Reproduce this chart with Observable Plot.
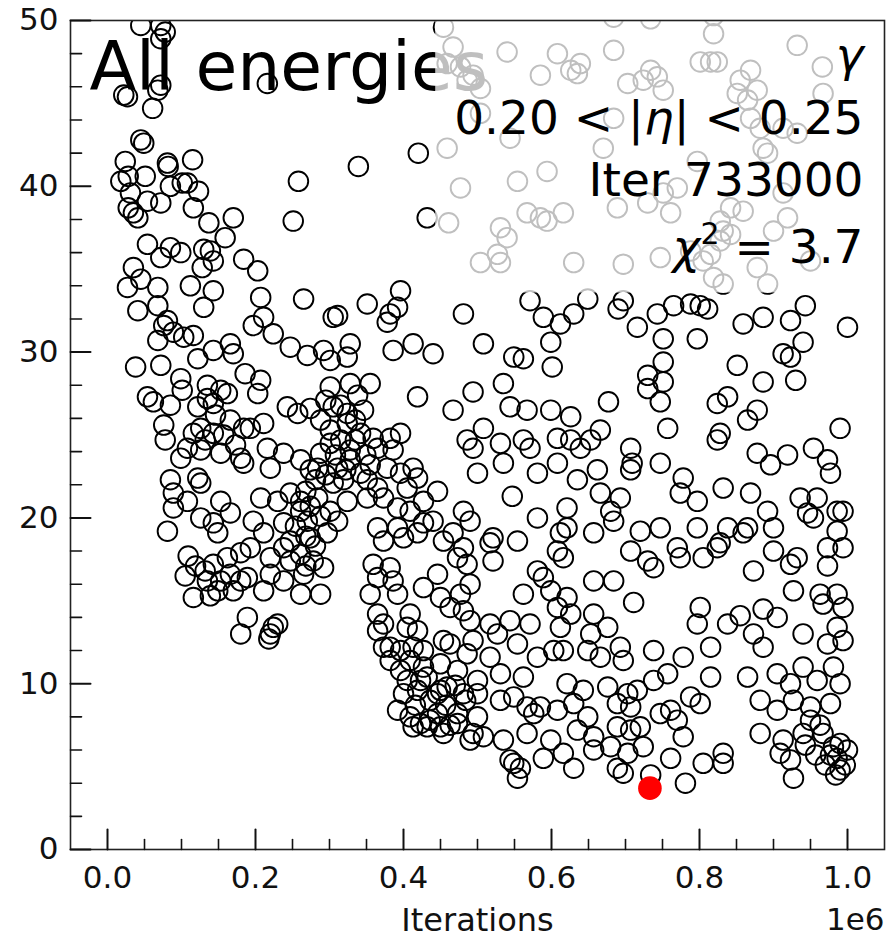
<!DOCTYPE html>
<html><head><meta charset="utf-8">
<script src="https://cdn.jsdelivr.net/npm/d3@7"></script>
<script src="https://cdn.jsdelivr.net/npm/@observablehq/plot@0.6"></script>
<style>html,body{margin:0;padding:0;background:#fff;}#chart{width:886px;height:939px;}</style>
</head><body><div id="chart"></div>
<script>
// [iterations in thousands, chi2]
const samplesTopLeft = [[45,49.7],[72,49.7],[78,49.3],[72,48.9],[22,45.5],[27,45.4],[68,45.8],[72,46.1],[61,44.7],[216,46.2],[45,42.8],[49,42.6],[24,41.5],[81,41.4],[115,41.6],[82,41.2],[18,40.3],[28,40.6],[51,40.6],[85,40.0],[101,40.2],[108,40.2],[123,39.7],[31,39.6],[54,39.1],[72,39.0],[28,38.7],[41,38.1],[35,38.4],[116,38.7],[137,37.8],[170,38.1],[258,40.3],[251,37.9],[339,41.2],[420,42.0],[432,38.1],[54,36.5],[72,35.7],[85,36.3],[99,36.0],[130,36.2],[139,36.1],[128,35.1],[143,35.5],[159,36.9],[184,35.6],[203,34.9],[35,35.1],[45,34.4],[27,33.9],[68,33.9],[112,34.0],[143,33.7]];
const samplesEarly = [[41,32.5],[68,32.8],[130,32.7],[81,31.9],[89,31.2],[68,30.7],[103,30.9],[116,31.0],[76,31.6],[38,29.1],[72,29.2],[122,29.6],[143,30.1],[166,30.5],[170,29.9],[186,28.7],[99,28.4],[101,27.7],[54,27.3],[62,27.0],[85,26.8],[135,27.2],[162,27.5],[143,26.9],[122,26.7],[76,25.6],[78,24.7],[126,25.4],[116,25.1],[143,25.1],[157,25.0],[184,25.4],[99,23.6],[153,23.9],[180,23.6],[184,23.3],[126,24.1],[108,24.2],[85,22.3],[122,22.4],[126,22.1],[89,21.5],[89,20.6],[108,21.0],[126,20.0],[153,21.0],[166,20.3],[143,19.7],[149,19.1],[81,19.2],[109,17.7],[105,16.5],[143,17.2],[162,17.6],[180,17.9],[166,16.6],[189,16.4],[135,16.2],[149,15.6],[170,15.6],[116,15.2],[135,28.0],[153,27.7],[146,26.2],[166,25.9],[132,24.7],[173,24.4],[119,17.1],[132,16.8],[153,16.2],[180,16.2],[139,15.3],[197,31.6]];
const samplesMiddle = [[207,33.3],[265,33.2],[305,32.1],[311,32.2],[351,32.9],[396,33.7],[392,32.7],[378,31.8],[382,32.3],[481,32.3],[571,33.1],[589,32.1],[612,31.7],[630,32.3],[211,32.1],[224,31.1],[247,30.3],[270,29.8],[292,30.1],[301,29.5],[328,30.5],[324,29.7],[386,30.1],[413,30.5],[440,29.9],[508,30.5],[549,29.7],[562,29.6],[599,30.6],[601,29.1],[207,28.3],[203,27.5],[301,27.9],[328,28.1],[355,28.1],[338,27.4],[419,27.3],[494,27.6],[535,28.1],[467,26.5],[243,26.7],[274,26.6],[257,26.3],[211,25.7],[193,25.4],[305,26.7],[324,26.3],[346,26.5],[324,25.7],[342,25.1],[359,24.8],[365,24.2],[382,24.8],[396,25.1],[386,24.1],[508,25.4],[544,26.7],[567,26.5],[599,26.5],[626,26.1],[486,24.7],[494,24.2],[531,24.5],[562,24.7],[571,24.2],[608,24.8],[626,24.7],[216,24.2],[238,23.9],[220,23.0],[261,23.5],[288,23.9],[301,24.5],[284,23.0],[311,23.0],[328,23.5],[342,22.7],[319,22.3],[305,22.1],[351,22.3],[365,21.8],[378,23.0],[396,22.7],[413,23.0],[419,22.4],[405,21.8],[500,22.7],[535,23.3],[581,22.7],[608,23.3],[635,22.3],[207,21.2],[230,21.0],[247,21.5],[261,20.4],[284,21.2],[301,20.4],[324,21.0],[351,21.2],[373,21.2],[392,20.6],[409,20.4],[427,21.0],[446,21.6],[440,19.8],[427,19.7],[481,20.4],[490,19.8],[547,21.3],[581,20.0],[621,20.6],[621,19.4],[612,19.1],[197,19.8],[211,19.1],[238,19.7],[247,18.6],[270,19.8],[274,18.8],[297,19.1],[311,19.8],[365,19.4],[373,18.6],[392,19.4],[400,18.8],[419,19.1],[454,18.6],[467,19.1],[481,18.2],[517,18.5],[521,18.8],[554,18.6],[521,17.4],[486,17.2],[473,17.6],[193,18.2],[220,17.6],[238,18.2],[261,17.8],[278,17.4],[292,17.0],[220,16.6],[238,16.2],[265,16.6],[261,15.4],[288,15.4],[211,15.6],[359,17.2],[365,16.4],[355,15.4],[382,17.0],[386,16.2],[392,15.4],[427,15.8],[446,16.6],[450,15.2],[477,15.4],[490,16.0],[608,18.0],[616,17.6],[581,16.8],[589,16.4],[599,15.6],[562,15.4],[621,15.2],[288,25.9],[301,25.3],[315,24.7],[328,24.1],[308,23.8],[322,22.9],[335,24.7],[295,22.6],[281,22.3],[268,21.6],[295,27.1],[315,26.8],[335,25.9],[349,23.8],[355,23.2],[274,22.9],[254,19.5],[268,18.9],[281,18.3],[261,21.0],[274,20.7],[288,20.1],[247,17.4],[268,17.1]];
const samplesLateUpper = [[649,33.2],[697,33.1],[690,32.6],[716,31.5],[743,32.3],[765,32.8],[788,32.9],[801,32.8],[811,32.6],[859,31.7],[886,32.1],[923,31.9],[943,32.8],[940,30.6],[1000,31.5],[751,30.8],[797,30.8],[751,29.4],[730,28.6],[751,28.2],[730,27.8],[747,27.0],[851,29.2],[886,28.2],[930,28.3],[913,29.9],[923,29.7],[677,27.0],[666,25.3],[653,24.7],[639,24.2],[757,25.4],[824,26.9],[838,27.3],[865,25.9],[878,26.5],[824,24.7],[828,25.1],[990,25.4],[707,24.2],[709,23.3],[707,22.9],[747,23.3],[878,23.9],[896,23.2],[919,23.8],[954,24.2],[973,23.5],[977,22.7],[662,22.9],[666,21.5],[693,21.2],[680,20.4],[684,19.8],[657,19.1],[778,22.4],[774,21.5],[797,21.0],[832,21.8],[869,21.5],[892,20.4],[900,19.4],[936,21.2],[959,21.2],[946,20.3],[954,20.0],[986,20.4],[994,20.4],[720,19.2],[747,19.4],[797,19.4],[838,19.4],[865,19.4],[859,19.1],[986,19.2],[707,18.0],[730,17.4],[738,17.0],[770,18.2],[774,17.6],[805,17.6],[828,18.5],[824,18.2],[900,18.0],[923,17.2],[932,17.6],[973,18.2],[994,18.2],[973,17.1],[873,16.8],[657,16.2],[684,16.2],[927,15.6],[963,15.4],[986,15.4]];
const samplesLateLower = [[608,14.6],[626,14.2],[657,14.2],[711,14.9],[801,14.6],[797,13.6],[838,13.6],[855,14.1],[886,14.5],[905,14.0],[967,14.8],[994,14.6],[612,13.4],[653,13.0],[676,13.4],[603,12.0],[616,12.0],[649,12.0],[666,11.6],[693,12.2],[697,11.4],[738,12.0],[778,11.6],[815,12.2],[873,13.0],[886,12.2],[940,13.0],[973,12.4],[994,12.6],[986,13.4],[621,10.0],[643,9.6],[676,9.8],[703,9.4],[716,9.6],[738,10.2],[757,10.6],[815,10.4],[865,10.4],[905,10.6],[923,10.0],[940,11.0],[959,10.2],[981,11.0],[990,10.0],[608,8.4],[630,8.8],[649,8.0],[689,8.8],[707,8.6],[747,8.2],[761,8.4],[770,7.8],[788,9.2],[801,8.8],[882,9.0],[905,8.4],[927,9.0],[950,8.6],[977,8.8],[599,6.6],[635,7.2],[657,6.8],[689,7.4],[707,7.2],[720,7.4],[778,6.8],[882,7.0],[913,6.6],[940,7.0],[967,7.0],[990,6.4],[1000,6.0],[616,5.8],[630,4.9],[657,6.0],[680,6.2],[689,4.9],[697,4.6],[724,6.2],[703,5.8],[761,5.5],[805,5.2],[832,5.8],[832,5.2],[909,5.8],[923,5.4],[927,4.3],[986,5.5],[990,4.8],[981,6.2],[734,4.5],[781,4.0],[943,6.3],[957,5.7],[970,5.1],[984,4.5],[997,5.1],[977,5.7],[950,7.8],[963,7.5]];
const samplesMidLower = [[189,14.0],[180,13.0],[218,12.7],[224,13.4],[230,13.6],[220,13.0],[365,14.2],[373,13.6],[365,13.2],[373,12.2],[382,11.4],[409,14.2],[405,13.4],[419,13.2],[463,14.6],[481,14.4],[490,13.8],[517,13.6],[527,13.0],[571,13.6],[544,13.8],[554,12.4],[581,11.6],[382,12.2],[396,12.0],[413,12.2],[427,12.0],[454,12.6],[463,12.4],[486,11.8],[494,12.6],[517,11.6],[531,10.6],[562,10.4],[396,10.8],[405,10.2],[427,11.0],[432,10.4],[450,11.2],[473,10.8],[500,10.2],[400,9.4],[419,9.6],[446,9.4],[459,9.8],[481,9.4],[500,9.4],[531,9.0],[549,9.2],[567,8.6],[585,8.6],[576,8.2],[392,8.4],[409,8.0],[423,7.6],[446,8.2],[450,7.4],[432,7.4],[473,8.2],[473,7.6],[500,8.0],[494,7.0],[508,6.8],[490,6.6],[535,6.6],[567,7.0],[589,5.5],[558,4.9],[544,5.4],[554,4.3],[549,5.2],[454,7.0],[413,7.4],[409,11.4],[423,10.2],[436,9.0],[457,8.7],[470,9.9],[484,9.0],[436,7.8],[463,7.5],[416,8.7],[450,9.6]];
const samplesTopRight = [[454,49.6],[467,48.4],[486,46.4],[494,46.7],[504,45.9],[459,47.4],[477,47.2],[540,48.1],[585,46.7],[608,48.0],[626,47.0],[639,47.4],[635,46.8],[684,48.2],[703,46.2],[724,46.4],[734,47.0],[743,46.6],[751,45.8],[819,49.2],[801,47.5],[815,47.5],[824,47.5],[855,46.4],[869,47.0],[851,45.6],[865,45.2],[878,45.8],[932,48.5],[967,45.6],[504,44.4],[544,42.9],[670,42.3],[684,44.1],[869,44.1],[882,43.5],[886,42.3],[892,42.0],[932,43.2],[913,43.5],[459,42.3],[477,39.9],[554,40.3],[594,40.9],[689,38.7],[730,39.0],[751,39.6],[761,38.4],[770,39.9],[797,41.5],[913,39.6],[842,38.7],[859,38.5],[828,37.9],[461,37.8],[531,37.5],[540,36.9],[567,38.4],[585,38.1],[594,37.9],[616,38.4],[527,35.9],[504,35.4],[531,35.4],[630,35.4],[697,35.3],[747,35.7],[788,36.1],[805,35.5],[815,35.9],[828,36.7],[832,37.3],[842,37.1],[819,34.5],[832,34.1],[878,35.1],[900,37.3],[919,38.1],[950,35.5],[892,34.1],[966,47.2],[684,50.2],[734,50.1],[819,50.3]];

const bestIteration = 733000;
const bestChi2 = 3.7;

const xMajorTicks = [0, 200000, 400000, 600000, 800000, 1000000];
const xMinorTicks = [50000,100000,150000,250000,300000,350000,450000,500000,550000,650000,700000,750000,850000,900000,950000];
const yMajorTicks = [0, 10, 20, 30, 40, 50];
const yMinorTicks = [2,4,6,8,12,14,16,18,22,24,26,28,32,34,36,38,42,44,46,48];

const titleText = "All energies";
const annotationLines = ["γ", "0.20 < |η| < 0.25", "Iter 733000", "χ² = 3.7"];
const annotationBaselines = [50, 113, 175, 242]; // px below frame top
const xLabel = "Iterations";
const xOffsetText = "1e6";

const samples = [...samplesTopLeft, ...samplesEarly, ...samplesMiddle, ...samplesMidLower,
  ...samplesLateUpper, ...samplesLateLower, ...samplesTopRight]
  .map(([k, c]) => ({iteration: k * 1000, chi2: c}));

const tickShape = {draw(ctx, l) { ctx.moveTo(0, 0); ctx.lineTo(0, -l); }};
const FONT = "DejaVu Sans, sans-serif";

const plot = Plot.plot({
  width: 886, height: 939,
  marginLeft: 70, marginRight: 2, marginTop: 20, marginBottom: 90,
  style: {fontFamily: FONT, fontSize: "31px", color: "#111", background: "#fff", overflow: "visible"},
  x: {domain: [-50000, 1050000], label: null},
  y: {domain: [0, 50], label: null},
  marks: [
    Plot.dot(samples, {x: "iteration", y: "chi2", r: 9.8, stroke: "#000", strokeWidth: 1.9, fill: "none", clip: true}),
    Plot.text([titleText], {frameAnchor: "top-left", dx: 19, dy: 21, lineAnchor: "top", textAnchor: "start", fontSize: 68, fill: "#000"}),
    ...annotationLines.map((t, i) => Plot.text([t], {frameAnchor: "top-right", dx: -21, dy: annotationBaselines[i], lineAnchor: "bottom", textAnchor: "end", fontSize: 47, fill: "#000"})),
    Plot.dot([{iteration: bestIteration, chi2: bestChi2}], {x: "iteration", y: "chi2", r: 11.8, fill: "#ff0000", stroke: "none"}),
    Plot.frame({stroke: "#222", strokeWidth: 1.6}),
    Plot.vector(xMajorTicks, {x: d => d, frameAnchor: "bottom", length: 20, shape: tickShape, anchor: "start", stroke: "#111", strokeWidth: 2}),
    Plot.vector(xMinorTicks, {x: d => d, frameAnchor: "bottom", length: 10, shape: tickShape, anchor: "start", stroke: "#111", strokeWidth: 1.6}),
    Plot.vector(yMajorTicks, {y: d => d, frameAnchor: "left", rotate: 90, length: 20, shape: tickShape, anchor: "start", stroke: "#111", strokeWidth: 2}),
    Plot.vector(yMinorTicks, {y: d => d, frameAnchor: "left", rotate: 90, length: 11, shape: tickShape, anchor: "start", stroke: "#111", strokeWidth: 1.6}),
    Plot.axisX({ticks: xMajorTicks, tickSize: 0, tickPadding: 16, tickFormat: d => (d / 1e6).toFixed(1), fontSize: 31, label: null, fill: "#111"}),
    Plot.axisY({ticks: yMajorTicks, tickSize: 0, tickPadding: 12, fontSize: 31, label: null, fill: "#111"}),
    Plot.text([xLabel], {frameAnchor: "bottom", dy: 81, lineAnchor: "bottom", fontSize: 32, fill: "#111"}),
    Plot.text([xOffsetText], {frameAnchor: "bottom-right", dy: 80, lineAnchor: "bottom", textAnchor: "end", fontSize: 31, fill: "#111"})
  ]
});

document.getElementById("chart").append(plot);

// Annotation: semi-transparent white box behind right-hand text, italic Greek letters
const annoSet = new Set(annotationLines);
const annoNodes = Array.from(plot.querySelectorAll("text")).filter(n => annoSet.has(n.textContent));
annoNodes.forEach(n => {
  let html = n.textContent.replace(/([γηχ])/g, '<tspan font-style="italic">$1</tspan>');
  if (html.includes("²")) html = html.replace("²", '<tspan font-size="30" dy="-19">2</tspan><tspan dy="19">') + "</tspan>";
  n.innerHTML = html;
});
if (annoNodes.length) {
  const sr = plot.getBoundingClientRect();
  let x0 = Infinity, y1 = -Infinity;
  annoNodes.forEach(n => { const r = n.getBoundingClientRect(); x0 = Math.min(x0, r.left - sr.left); y1 = Math.max(y1, r.bottom - sr.top); });
  const left = x0 - 19, top = 20, right = 884, bottom = y1 + 19;
  const rect = document.createElementNS("http://www.w3.org/2000/svg", "rect");
  rect.setAttribute("x", left); rect.setAttribute("y", top);
  rect.setAttribute("width", right - left); rect.setAttribute("height", bottom - top);
  rect.setAttribute("fill", "#fff"); rect.setAttribute("fill-opacity", "0.75");
  let g = annoNodes[0];
  while (g.parentNode && g.parentNode !== plot) g = g.parentNode;
  plot.insertBefore(rect, g);
}
</script>
</body></html>
